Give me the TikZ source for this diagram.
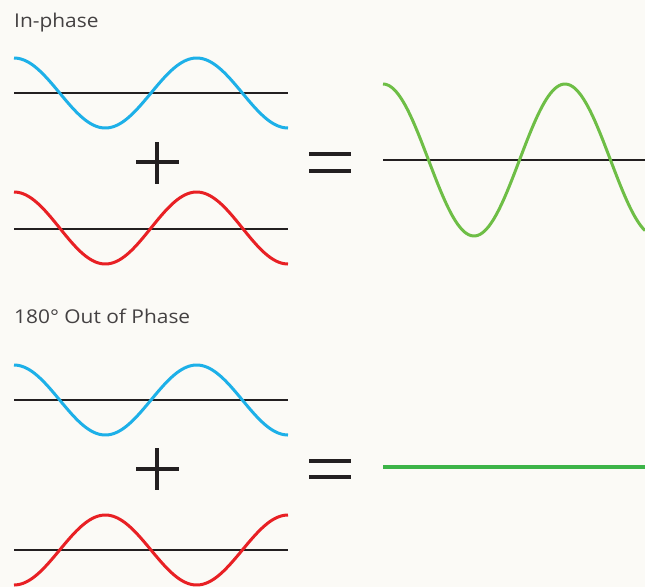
\documentclass[tikz,border=0pt]{standalone}
\usepackage{fontspec}
\usepackage{graphicx}
\setmainfont{Open Sans}
\definecolor{bgc}{RGB}{251,250,246}
\definecolor{wblue}{RGB}{29,176,232}
\definecolor{wred}{RGB}{232,32,36}
\definecolor{wgreen}{RGB}{110,190,70}
\definecolor{lgreen}{RGB}{60,180,72}
\definecolor{ink}{RGB}{35,31,32}
\begin{document}
\begin{tikzpicture}[x=1pt,y=-1pt,
  wave/.style={line width=3pt,smooth,samples=120},
  axthin/.style={ink,line width=1.6pt},
  axthick/.style={ink,line width=2.4pt},
  sign/.style={ink,line width=4pt},
  title/.style={anchor=base west,inner sep=0pt,font=\fontsize{19}{21}\selectfont,text=ink!85}]
\fill[bgc] (0,0) rectangle (645,587);
\useasboundingbox (0,0) rectangle (645,587);
% titles
\node[title] (t1) at (14,27) {\scalebox{1.1}[1]{In-phase}};
\node[title] (t2) at (14,323) {\scalebox{1.1}[1]{180\textdegree\ Out of Phase}};
% in-phase
\draw[axthin] (14,93) -- (288,93);
\draw[wave,wblue] plot[domain=14:288] (\x,{93-35*cos((\x-14)/182.67*360)});
\draw[axthin] (14,229) -- (288,229);
\draw[wave,wred] plot[domain=14:288] (\x,{228-36*cos((\x-14)/182.67*360)});
\draw[sign] (136,162) -- (179,162) (157,142) -- (157,184);
\draw[sign] (309,154) -- (351,154) (309,171) -- (351,171);
\draw[axthin] (383,160) -- (645,160);
\draw[wave,wgreen] plot[domain=383:645] (\x,{160-76*cos((\x-383)/182*360)});
% out of phase
\draw[axthick] (14,400) -- (288,400);
\draw[wave,wblue] plot[domain=14:288] (\x,{400-35*cos((\x-14)/182.67*360)});
\draw[axthick] (14,550) -- (288,550);
\draw[wave,wred] plot[domain=14:288] (\x,{550+35*cos((\x-14)/182.67*360)});
\draw[sign] (136,469) -- (179,469) (157,448) -- (157,490);
\draw[sign] (309,461) -- (351,461) (309,477) -- (351,477);
\draw[lgreen,line width=4pt] (383,467) -- (645,467);
\end{tikzpicture}
\end{document}
